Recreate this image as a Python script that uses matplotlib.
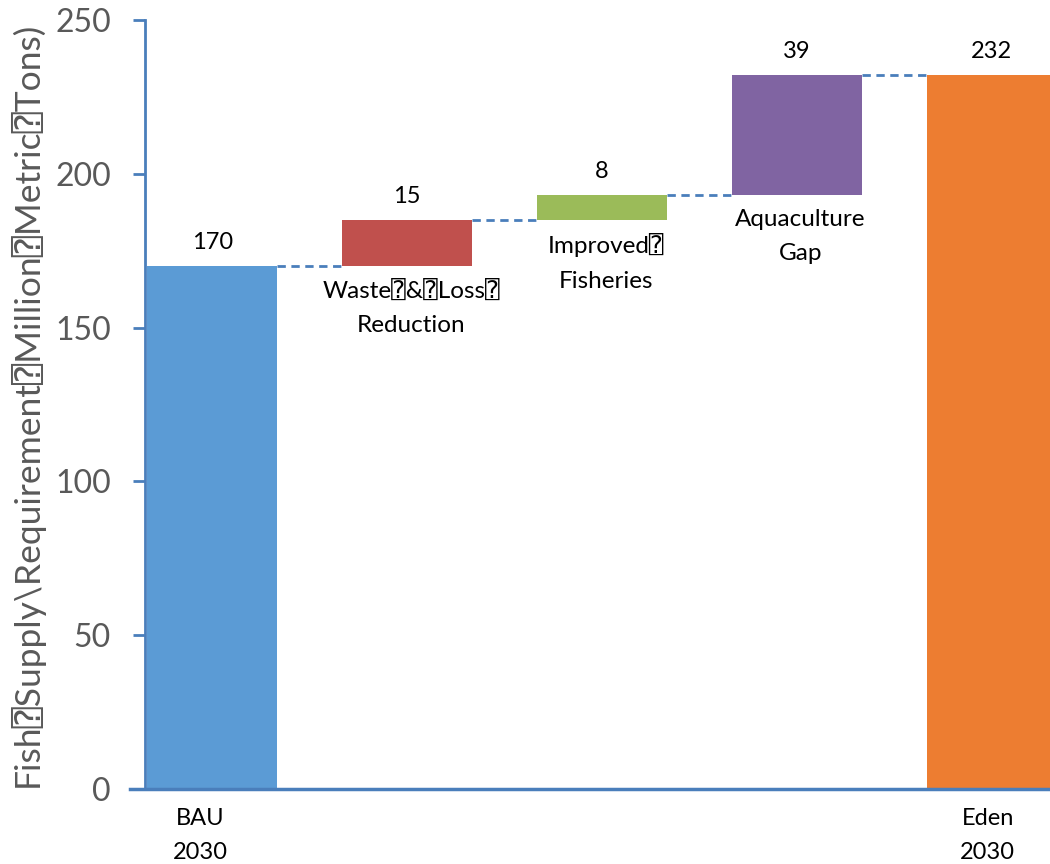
import matplotlib
matplotlib.use("Agg")
import matplotlib.pyplot as plt
import numpy as np

Q = "\u2370"
categories = ["BAU\n2030", f"Waste{Q}&{Q}Loss{Q}\nReduction", f"Improved{Q}\nFisheries",
              "Aquaculture\nGap", "Eden\n2030"]
values = [170, 15, 8, 39, 232]
kinds = ["total", "step", "step", "step", "total"]
colors = ["#5B9BD5", "#C0504D", "#9BBB59", "#8064A2", "#ED7D31"]
ylabel = f"Fish{Q}Supply\\Requirement{Q}Million{Q}Metric{Q}Tons)"
yticks = [0, 50, 100, 150, 200, 250]

FAM = ["Lato", "DejaVu Sans", "DejaVu Sans Mono"]
NARROW = ["Liberation Sans Narrow", "Lato", "DejaVu Sans", "DejaVu Sans Mono"]
AXC = "#4A7EBB"

fig = plt.figure(figsize=(10.5, 8.64), dpi=100)
ax = fig.add_axes([145/1050, 1-789/864, 1-145/1050, (789-20)/864])

x = np.arange(len(values))
w = 0.667
bottoms, tops = [], []
run = 0
for v, k in zip(values, kinds):
    if k == "total":
        b, t = 0, v
        run = v
    else:
        b, t = run, run + v
        run = t
    bottoms.append(b)
    tops.append(t)

ax.bar(x, np.array(tops) - np.array(bottoms), bottom=bottoms, width=w, color=colors, zorder=2)

# connectors
for i in range(len(values) - 1):
    ax.plot([x[i] + w/2, x[i+1] - w/2], [tops[i], tops[i]], ls=(0, (3, 2)),
            color=AXC, lw=2, zorder=1)

# value labels
for i, v in enumerate(values):
    ax.text(x[i], tops[i] + 7.6, str(v), ha="center", va="center", fontsize=17,
            family=FAM, color="black")

# category labels
for i, (c, k) in enumerate(zip(categories, kinds)):
    if k == "step":
        ax.text(x[i] + 0.02, bottoms[i] - 4.3, c, ha="center", va="top", fontsize=17.5,
                family=FAM, color="black", linespacing=1.8)

ax.set_xlim(-0.345, 4.30)
ax.set_ylim(0, 250)
ax.set_yticks(yticks)
ax.set_yticklabels([str(t) for t in yticks], fontsize=23, color="#595959", family=FAM)
ax.tick_params(axis="y", length=8.5, width=2, color=AXC, pad=16)
ax.set_xticks([])

# total labels below axis
for i, (c, k) in enumerate(zip(categories, kinds)):
    if k == "total":
        off = -0.06 if i == 0 else -0.02
        ax.annotate(c, xy=(x[i] + off, 0), xycoords="data", xytext=(0, -14),
                    textcoords="offset points", ha="center", va="top", fontsize=17,
                    family=NARROW, color="black", linespacing=1.75, annotation_clip=False)

for s in ["top", "right"]:
    ax.spines[s].set_visible(False)
ax.spines["left"].set_color(AXC)
ax.spines["left"].set_linewidth(2)
ax.spines["bottom"].set_color(AXC)
ax.spines["bottom"].set_linewidth(2.5)
ax.spines["bottom"].set_bounds(-0.42, 4.30)

ax.set_ylabel(ylabel, fontsize=25.5, color="#595959", family=FAM)
ax.yaxis.set_label_coords(-0.112, 0.5)

fig.savefig("out.png", dpi=100)
